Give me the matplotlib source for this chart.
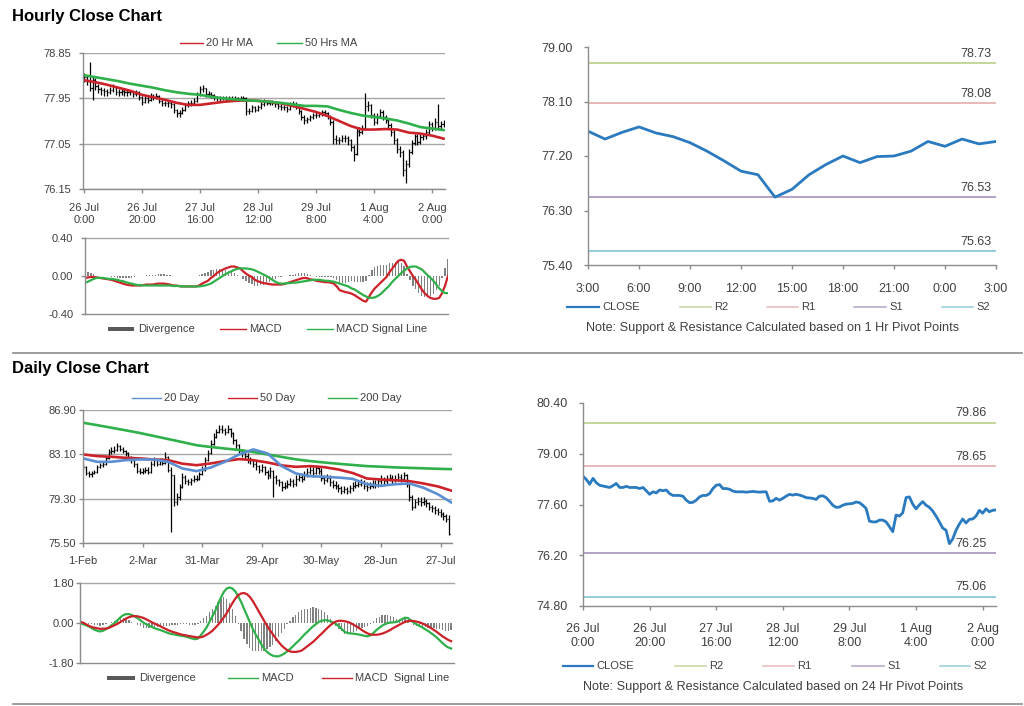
import numpy as np
import matplotlib
matplotlib.use("Agg")
import matplotlib.pyplot as plt
from matplotlib.lines import Line2D
from matplotlib.patches import Rectangle

plt.rcParams['font.family'] = ['Liberation Sans', 'DejaVu Sans']

# ---------------- DATA ----------------
hourly_tick_labels = ["26 Jul\n0:00", "26 Jul\n20:00", "27 Jul\n16:00", "28 Jul\n12:00",
                      "29 Jul\n8:00", "1 Aug\n4:00", "2 Aug\n0:00"]

hourly_close = [
    78.38, 78.29, 78.16, 78.32, 78.20, 78.13, 78.11, 78.09, 78.07, 78.12,
    78.18, 78.07, 78.07, 78.10, 78.07, 78.07, 78.07, 78.04, 78.07, 77.98,
    77.88, 77.95, 77.92, 78.00, 77.98, 78.00, 77.90, 77.85, 77.85, 77.85,
    77.83, 77.72, 77.65, 77.66, 77.72, 77.81, 77.85, 77.85, 77.90, 78.04,
    78.13, 78.15, 78.04, 78.04, 78.02, 77.97, 77.95, 77.95, 77.95, 77.94,
    77.95, 77.96, 77.95, 77.94, 77.95, 77.95, 77.69, 77.70, 77.77, 77.72,
    77.77, 77.83, 77.88, 77.86, 77.88, 77.86, 77.83, 77.79, 77.78, 77.77,
    77.74, 77.83, 77.84, 77.79, 77.69, 77.58, 77.52, 77.53, 77.58, 77.61,
    77.62, 77.63, 77.67, 77.65, 77.58, 77.49, 77.14, 77.12, 77.12, 77.17,
    77.17, 77.12, 76.99, 76.85, 77.31, 77.28, 77.37, 77.79, 77.81, 77.61,
    77.48, 77.59, 77.68, 77.58, 77.52, 77.42, 77.28, 77.12, 76.95, 76.89,
    76.52, 76.65, 76.89, 77.06, 77.20, 77.09, 77.19, 77.20, 77.28, 77.44,
    77.36, 77.48, 77.40, 77.44, 77.45]

hourly_high = [
    78.45, 78.42, 78.67, 78.40, 78.36, 78.24, 78.18, 78.16, 78.14, 78.18,
    78.23, 78.20, 78.13, 78.16, 78.14, 78.13, 78.12, 78.10, 78.12, 78.09,
    78.00, 78.00, 77.99, 78.05, 78.04, 78.05, 78.02, 77.93, 77.90, 77.91,
    77.89, 77.85, 77.74, 77.72, 77.77, 77.86, 77.90, 77.92, 77.96, 78.08,
    78.19, 78.21, 78.16, 78.09, 78.08, 78.04, 78.00, 77.99, 77.99, 77.99,
    77.99, 78.00, 77.99, 77.98, 77.99, 78.00, 77.97, 77.76, 77.82, 77.80,
    77.82, 77.88, 77.93, 77.92, 77.92, 77.91, 77.89, 77.86, 77.83, 77.82,
    77.80, 77.87, 77.89, 77.87, 77.81, 77.72, 77.61, 77.58, 77.62, 77.66,
    77.67, 77.68, 77.72, 77.71, 77.68, 77.61, 77.52, 77.22, 77.19, 77.23,
    77.22, 77.20, 77.15, 77.02, 77.36, 77.38, 77.43, 78.05, 77.90, 77.84,
    77.66, 77.65, 77.74, 77.71, 77.62, 77.56, 77.46, 77.32, 77.16, 77.00,
    76.93, 76.72, 76.95, 77.12, 77.25, 77.24, 77.24, 77.26, 77.34, 77.50,
    77.48, 77.55, 77.83, 77.50, 77.52]

hourly_low = [
    78.28, 78.22, 78.10, 77.91, 78.12, 78.05, 78.02, 78.00, 77.99, 78.03,
    78.08, 78.01, 77.99, 78.02, 78.00, 78.00, 78.01, 77.98, 78.00, 77.92,
    77.82, 77.85, 77.86, 77.90, 77.92, 77.93, 77.85, 77.79, 77.79, 77.78,
    77.76, 77.66, 77.57, 77.58, 77.63, 77.70, 77.77, 77.79, 77.82, 77.88,
    78.00, 78.07, 77.98, 77.98, 77.96, 77.92, 77.90, 77.90, 77.91, 77.90,
    77.90, 77.91, 77.91, 77.90, 77.91, 77.90, 77.62, 77.64, 77.67, 77.67,
    77.69, 77.74, 77.80, 77.81, 77.82, 77.81, 77.78, 77.73, 77.72, 77.71,
    77.68, 77.71, 77.78, 77.74, 77.63, 77.52, 77.45, 77.47, 77.50, 77.54,
    77.56, 77.57, 77.60, 77.60, 77.53, 77.43, 77.05, 77.04, 77.05, 77.08,
    77.09, 77.03, 76.90, 76.70, 76.82, 77.20, 77.25, 77.34, 77.70, 77.55,
    77.42, 77.45, 77.56, 77.52, 77.46, 77.36, 77.21, 77.04, 76.86, 76.78,
    76.40, 76.26, 76.58, 76.84, 77.02, 77.03, 77.05, 77.13, 77.15, 77.24,
    77.30, 77.32, 77.34, 77.35, 77.38]

# moving averages, one value every 4 hours
ma20_hr = [78.31, 78.27, 78.22, 78.16, 78.10, 78.02, 77.97, 77.92, 77.86, 77.82,
           77.82, 77.85, 77.88, 77.90, 77.91, 77.90, 77.88, 77.85, 77.80, 77.74,
           77.68, 77.60, 77.50, 77.40, 77.33, 77.33, 77.34, 77.33, 77.27, 77.25,
           77.21, 77.15]
ma50_hr = [78.41, 78.37, 78.33, 78.29, 78.24, 78.20, 78.16, 78.11, 78.07, 78.04,
           78.02, 77.98, 77.95, 77.93, 77.91, 77.90, 77.88, 77.86, 77.83, 77.80,
           77.80, 77.79, 77.72, 77.66, 77.61, 77.58, 77.55, 77.51, 77.45, 77.38,
           77.35, 77.32]

macd_hr = [
    -0.02, -0.015, -0.01, -0.01, -0.015, -0.02, -0.025, -0.03, -0.035, -0.04,
    -0.05, -0.06, -0.07, -0.08, -0.09, -0.095, -0.10, -0.10, -0.10, -0.10,
    -0.095, -0.09, -0.09, -0.09, -0.085, -0.08, -0.08, -0.08, -0.085, -0.09,
    -0.10, -0.10, -0.105, -0.11, -0.11, -0.11, -0.11, -0.11, -0.11, -0.10,
    -0.08, -0.065, -0.05, -0.02, 0.00, 0.03, 0.05, 0.065, 0.08, 0.09,
    0.10, 0.10, 0.09, 0.08, 0.05, 0.025, 0.005, -0.01, -0.04, -0.055,
    -0.065, -0.075, -0.08, -0.085, -0.09, -0.09, -0.09, -0.09, -0.085, -0.075,
    -0.065, -0.055, -0.045, -0.035, -0.025, -0.02, -0.025, -0.035, -0.04, -0.05,
    -0.055, -0.06, -0.065, -0.065, -0.07, -0.08, -0.11, -0.15, -0.16, -0.17,
    -0.175, -0.185, -0.20, -0.22, -0.24, -0.26, -0.27, -0.22, -0.17, -0.13,
    -0.10, -0.07, -0.04, -0.01, 0.04, 0.08, 0.12, 0.16, 0.17, 0.16,
    0.10, 0.05, 0.00, -0.04, -0.09, -0.14, -0.18, -0.21, -0.23, -0.24,
    -0.24, -0.23, -0.18, -0.10, 0.00]
signal_hr = [
    -0.07, -0.06, -0.045, -0.03, -0.02, -0.02, -0.02, -0.025, -0.03, -0.03,
    -0.035, -0.04, -0.05, -0.055, -0.065, -0.075, -0.08, -0.09, -0.095, -0.095,
    -0.10, -0.10, -0.10, -0.10, -0.10, -0.10, -0.10, -0.10, -0.10, -0.10,
    -0.105, -0.105, -0.105, -0.11, -0.11, -0.11, -0.11, -0.11, -0.11, -0.11,
    -0.105, -0.10, -0.09, -0.08, -0.06, -0.04, -0.02, 0.00, 0.02, 0.035,
    0.05, 0.065, 0.075, 0.08, 0.08, 0.08, 0.075, 0.07, 0.06, 0.045,
    0.03, 0.015, 0.00, -0.02, -0.04, -0.06, -0.075, -0.08, -0.08, -0.075,
    -0.075, -0.07, -0.07, -0.065, -0.06, -0.055, -0.05, -0.045, -0.04, -0.04,
    -0.04, -0.045, -0.05, -0.05, -0.055, -0.06, -0.07, -0.08, -0.09, -0.10,
    -0.11, -0.13, -0.14, -0.16, -0.18, -0.20, -0.215, -0.23, -0.23, -0.225,
    -0.21, -0.19, -0.16, -0.13, -0.10, -0.06, -0.03, 0.00, 0.03, 0.055,
    0.08, 0.095, 0.10, 0.10, 0.085, 0.07, 0.04, 0.01, -0.02, -0.05,
    -0.09, -0.13, -0.16, -0.18, -0.18]

# 1-hour pivot chart (last 24 hours of the hourly series)
pivot1_start = 99
pivot1_tick_labels = ["3:00", "6:00", "9:00", "12:00", "15:00", "18:00", "21:00", "0:00", "3:00"]
pivot1_names = ["R2", "R1", "S1", "S2"]
pivot1_values = [78.73, 78.08, 76.53, 75.63]

# daily data
daily_tick_labels = ["1-Feb", "2-Mar", "31-Mar", "29-Apr", "30-May", "28-Jun", "27-Jul"]
daily_close = [
    82.0, 81.5, 81.4, 81.5, 81.6, 82.0, 82.2, 82.3, 82.8, 83.3,
    83.4, 83.5, 83.8, 83.6, 83.4, 83.2, 82.9, 82.6, 82.3, 81.7,
    81.6, 81.7, 81.8, 81.6, 82.3, 82.6, 82.3, 82.6, 82.4, 82.9,
    81.8, 81.3, 79.0, 79.4, 80.3, 81.2, 80.8, 80.7, 80.9, 81.0,
    81.0, 81.4, 81.8, 82.6, 83.2, 84.0, 84.6, 85.0, 85.3, 85.2,
    85.0, 85.3, 84.9, 84.3, 83.9, 83.4, 83.2, 83.0, 82.7, 82.6,
    82.3, 82.1, 81.8, 82.0, 81.6, 81.3, 81.7, 81.2, 80.9, 80.7,
    80.3, 80.4, 80.6, 80.8, 80.6, 81.0, 81.2, 81.0, 81.4, 81.6,
    81.8, 81.5, 81.9, 81.7, 81.1, 80.9, 81.1, 80.7, 80.5, 80.4,
    80.2, 80.0, 80.1, 80.0, 80.2, 80.4, 80.5, 80.6, 80.7, 80.4,
    80.3, 80.4, 80.6, 80.5, 80.8, 81.0, 80.8, 81.0, 81.1, 80.9,
    81.0, 81.2, 81.0, 81.3, 80.6, 79.4, 78.6, 79.0, 79.1, 79.0,
    79.1, 78.9, 78.6, 78.5, 78.3, 78.2, 78.0, 77.8, 77.6, 76.3]
daily_high = [
    82.3, 82.1, 81.7, 81.7, 81.8, 82.2, 82.4, 82.5, 83.0, 83.6,
    83.7, 83.8, 84.1, 83.9, 83.7, 83.5, 83.3, 83.0, 82.7, 82.4,
    81.9, 81.9, 82.0, 82.0, 82.5, 82.9, 82.7, 82.8, 82.8, 83.3,
    83.0, 82.0, 81.3, 79.8, 80.6, 81.5, 81.3, 81.0, 81.1, 81.3,
    81.3, 81.6, 82.1, 82.9, 83.5, 84.3, 84.9, 85.3, 85.6, 85.6,
    85.4, 85.6, 85.4, 85.0, 84.4, 84.0, 83.6, 83.4, 83.2, 82.9,
    82.7, 82.5, 82.2, 82.3, 82.1, 81.8, 82.0, 81.8, 81.3, 81.0,
    80.8, 80.7, 80.9, 81.1, 81.0, 81.3, 81.5, 81.4, 81.7, 81.9,
    82.1, 82.0, 82.2, 82.1, 81.9, 81.3, 81.4, 81.3, 80.9, 80.8,
    80.6, 80.4, 80.4, 80.3, 80.5, 80.7, 80.8, 80.9, 81.0, 80.9,
    80.7, 80.7, 80.9, 80.9, 81.1, 81.3, 81.2, 81.3, 81.4, 81.3,
    81.3, 81.5, 81.4, 81.6, 81.4, 80.7, 79.6, 79.3, 79.4, 79.4,
    79.4, 79.3, 79.0, 78.8, 78.7, 78.5, 78.4, 78.2, 78.0, 77.9]
daily_low = [
    81.8, 81.3, 81.2, 81.2, 81.4, 81.5, 81.9, 82.0, 82.2, 82.7,
    83.1, 83.2, 83.4, 83.4, 83.2, 83.0, 82.7, 82.4, 82.0, 81.5,
    81.4, 81.4, 81.5, 81.4, 81.5, 82.1, 82.1, 82.2, 82.2, 82.3,
    81.6, 76.4, 78.7, 78.8, 79.2, 80.2, 80.6, 80.5, 80.5, 80.7,
    80.8, 80.9, 81.3, 81.7, 82.5, 83.1, 83.9, 84.5, 84.9, 84.9,
    84.8, 84.9, 84.6, 84.0, 83.6, 83.2, 82.9, 82.7, 82.4, 82.3,
    82.0, 81.8, 81.5, 81.6, 81.3, 81.0, 81.1, 79.4, 80.6, 80.4,
    80.0, 80.1, 80.2, 80.4, 80.3, 80.4, 80.8, 80.7, 80.9, 81.2,
    81.4, 81.2, 81.4, 81.4, 80.8, 80.6, 80.7, 80.4, 80.2, 80.1,
    79.9, 79.7, 79.8, 79.7, 79.8, 80.0, 80.2, 80.3, 80.4, 80.1,
    80.0, 80.1, 80.2, 80.2, 80.3, 80.6, 80.5, 80.6, 80.8, 80.6,
    80.7, 80.8, 80.7, 80.8, 80.3, 79.1, 78.3, 78.5, 78.8, 78.7,
    78.8, 78.6, 78.3, 78.2, 78.0, 77.9, 77.7, 77.5, 77.3, 76.2]

# moving averages, one value every 5 days
ma20_d = [82.75, 82.46, 82.46, 82.60, 82.66, 82.66, 82.46, 81.89, 81.66, 81.97,
          82.46, 83.09, 83.52, 83.18, 82.09, 81.46, 81.23, 81.17, 81.11, 81.00,
          80.54, 80.40, 80.54, 80.60, 80.23, 79.68, 78.94]
ma50_d = [83.09, 82.95, 82.89, 82.80, 82.75, 82.66, 82.60, 82.30, 82.17, 82.32,
          82.52, 82.69, 82.60, 82.40, 82.15, 82.03, 82.09, 82.00, 81.80, 81.50,
          81.03, 80.94, 80.88, 80.80, 80.60, 80.35, 79.97]
ma200_d = [85.81, 85.60, 85.38, 85.16, 84.93, 84.67, 84.41, 84.15, 83.88, 83.73,
           83.60, 83.47, 83.30, 83.09, 82.88, 82.67, 82.52, 82.40, 82.29, 82.19,
           82.09, 82.04, 81.98, 81.94, 81.90, 81.86, 81.83]

macd_d = [
    0.00, -0.05, -0.10, -0.15, -0.22, -0.30, -0.35, -0.38, -0.35, -0.28,
    -0.20, -0.10, 0.00, 0.12, 0.25, 0.35, 0.40, 0.40, 0.36, 0.30,
    0.22, 0.12, 0.02, -0.05, -0.12, -0.18, -0.24, -0.28, -0.32, -0.37,
    -0.42, -0.47, -0.50, -0.52, -0.55, -0.57, -0.59, -0.62, -0.66, -0.70,
    -0.73, -0.70, -0.55, -0.38, -0.20, 0.05, 0.30, 0.55, 0.85, 1.15,
    1.40, 1.55, 1.60, 1.55, 1.42, 1.20, 0.95, 0.65, 0.35, 0.05,
    -0.25, -0.50, -0.72, -0.95, -1.15, -1.30, -1.40, -1.47, -1.50, -1.50,
    -1.45, -1.38, -1.28, -1.17, -1.05, -0.92, -0.80, -0.66, -0.52, -0.40,
    -0.27, -0.15, -0.05, 0.05, 0.10, 0.13, 0.12, 0.08, 0.02, -0.05,
    -0.15, -0.28, -0.40, -0.45, -0.47, -0.48, -0.50, -0.52, -0.55, -0.58,
    -0.60, -0.55, -0.45, -0.32, -0.22, -0.12, -0.05, 0.00, 0.02, 0.03,
    0.05, 0.10, 0.18, 0.24, 0.22, 0.12, 0.02, -0.06, -0.13, -0.20,
    -0.28, -0.36, -0.45, -0.55, -0.65, -0.78, -0.90, -1.02, -1.10, -1.15]
signal_d = [
    0.05, 0.02, -0.05, -0.12, -0.18, -0.21, -0.24, -0.26, -0.26, -0.25,
    -0.22, -0.16, -0.10, -0.04, 0.04, 0.12, 0.20, 0.26, 0.30, 0.31,
    0.30, 0.27, 0.23, 0.17, 0.10, 0.03, -0.03, -0.09, -0.15, -0.22,
    -0.28, -0.34, -0.39, -0.43, -0.47, -0.51, -0.54, -0.56, -0.59, -0.61,
    -0.63, -0.65, -0.64, -0.60, -0.53, -0.45, -0.35, -0.22, -0.08, 0.08,
    0.25, 0.45, 0.68, 0.90, 1.10, 1.25, 1.33, 1.35, 1.30, 1.18,
    1.00, 0.78, 0.55, 0.32, 0.10, -0.12, -0.32, -0.50, -0.68, -0.85,
    -1.00, -1.12, -1.22, -1.28, -1.30, -1.30, -1.28, -1.24, -1.15, -1.05,
    -0.95, -0.85, -0.73, -0.60, -0.48, -0.35, -0.22, -0.10, 0.00, 0.07,
    0.10, 0.10, 0.08, 0.05, 0.00, -0.07, -0.15, -0.23, -0.32, -0.40,
    -0.47, -0.52, -0.53, -0.53, -0.51, -0.48, -0.43, -0.37, -0.30, -0.22,
    -0.15, -0.08, -0.01, 0.05, 0.09, 0.10, 0.09, 0.06, 0.03, -0.02,
    -0.08, -0.15, -0.23, -0.31, -0.40, -0.50, -0.60, -0.68, -0.76, -0.82]

# 24-hour pivot chart (uses hourly closes)
pivot24_names = ["R2", "R1", "S1", "S2"]
pivot24_values = [79.86, 78.65, 76.25, 75.06]

# axis ticks
hr_price_ticks = [76.15, 77.05, 77.95, 78.85]
hr_macd_ticks = [-0.40, 0.00, 0.40]
p1_ticks = [75.40, 76.30, 77.20, 78.10, 79.00]
d_price_ticks = [75.50, 79.30, 83.10, 86.90]
d_macd_ticks = [-1.80, 0.00, 1.80]
p24_ticks = [74.80, 76.20, 77.60, 79.00, 80.40]

# ---------------- STYLE ----------------
W, H = 1024, 706
RED = '#cc2229'
GREEN = '#2fb04a'
BLUE20 = '#5b8fd2'
CLOSE_BLUE = '#2a7abf'
PIV_COL = {'R2': '#c3d69b', 'R1': '#e6b9b8', 'S1': '#b3a2c7', 'S2': '#93cddd'}
GRID = '#a6a6a6'
SPINE = '#8c8c8c'
TXT = '#404040'
DIVC = '#808080'

fig = plt.figure(figsize=(W / 100, H / 100), dpi=100)


def add_ax(l, t, r, b):
    return fig.add_axes([l / W, 1 - b / H, (r - l) / W, (b - t) / H])


def style(ax, ypad, xpad, fs):
    for s in ['top', 'right']:
        ax.spines[s].set_visible(False)
    for s in ['left', 'bottom']:
        ax.spines[s].set_color(SPINE)
        ax.spines[s].set_linewidth(1)
    ax.tick_params(axis='both', colors=SPINE, labelcolor=TXT, length=3, width=1, labelsize=fs)
    ax.tick_params(axis='y', pad=ypad)
    ax.tick_params(axis='x', pad=xpad)


def set_yticks(ax, ticks):
    ax.set_yticks(ticks)
    ax.set_yticklabels([f"{t:.2f}" for t in ticks])
    ax.set_ylim(ticks[0], ticks[-1])


def ohlc(ax, close, hi, lo, tw):
    c = np.asarray(close)
    x = np.arange(len(c))
    o = np.concatenate([[c[0]], c[:-1]])
    top = np.maximum.reduce([np.asarray(hi), o, c])
    bot = np.minimum.reduce([np.asarray(lo), o, c])
    ax.vlines(x, bot, top, color='black', lw=0.9)
    ax.hlines(o, x - tw, x, color='black', lw=0.9)
    ax.hlines(c, x, x + tw, color='black', lw=0.9)


def fx(x):
    return x / W


def fy(y):
    return 1 - y / H


def leg_line(x0, x1, y, color, label, lw=1.0, fs=8):
    fig.add_artist(Line2D([fx(x0), fx(x1)], [fy(y), fy(y)], color=color, lw=lw,
                          transform=fig.transFigure))
    fig.text(fx(x1 + 3), fy(y), label, fontsize=fs, color=TXT, va='center', ha='left')


def leg_box(x0, x1, y, label, fs=8):
    fig.add_artist(Rectangle((fx(x0), fy(y + 2)), fx(x1 - x0), 4.5 / H, color='#595959',
                             transform=fig.transFigure, lw=0))
    fig.text(fx(x1 + 4), fy(y), label, fontsize=fs, color=TXT, va='center', ha='left')


# ---------------- TITLES & SEPARATORS ----------------
fig.text(fx(12), fy(16), "Hourly Close Chart", fontsize=12, fontweight='bold', va='center', color='black')
fig.text(fx(12), fy(369), "Daily Close Chart", fontsize=12, fontweight='bold', va='center', color='black')
fig.add_artist(Line2D([fx(13), fx(1022)], [fy(352.5), fy(352.5)], color='#8c8c8c', lw=1.2,
                      transform=fig.transFigure))
fig.add_artist(Line2D([fx(13), fx(1022)], [fy(703.5), fy(703.5)], color='#8c8c8c', lw=1.2,
                      transform=fig.transFigure))

# ---------------- HOURLY PRICE ----------------
nh = len(hourly_close)
ax1 = add_ax(83, 53, 445, 189)
style(ax1, 5.5, 7, 8)
ax1.yaxis.grid(True, color=GRID, lw=1)
ax1.set_axisbelow(True)
ohlc(ax1, hourly_close, hourly_high, hourly_low, 0.4)
xm = np.arange(0, nh, 4)
ax1.plot(xm, ma20_hr, color=RED, lw=1.9)
ax1.plot(xm, ma50_hr, color=GREEN, lw=1.9)
set_yticks(ax1, hr_price_ticks)
ax1.set_xlim(-0.3, 124.5)
ax1.set_xticks(np.arange(0, nh, 20))
ax1.set_xticklabels(hourly_tick_labels, linespacing=1.25)
leg_line(180, 203, 43, RED, "20 Hr MA")
leg_line(277, 302, 43, GREEN, "50 Hrs MA")

# ---------------- HOURLY MACD ----------------
ax2 = add_ax(85, 238, 448, 314)
style(ax2, 5.5, 3, 8)
mh = np.asarray(macd_hr)
sh = np.asarray(signal_hr)
xh = np.arange(len(mh))
ax2.bar(xh, mh - sh, width=0.45, color=DIVC, lw=0)
ax2.plot(xh, mh, color=RED, lw=1.6)
ax2.plot(xh, sh, color=GREEN, lw=1.6)
ax2.axhline(hr_macd_ticks[-1], color=GRID, lw=1, clip_on=False)
set_yticks(ax2, hr_macd_ticks)
ax2.set_xlim(0, 124)
ax2.set_xticks([])
leg_box(108, 134, 329, "Divergence")
leg_line(220, 246, 329, RED, "MACD")
leg_line(307, 333, 329, GREEN, "MACD Signal Line")

# ---------------- 1 HR PIVOT ----------------
ax3 = add_ax(588, 47, 996, 265)
style(ax3, 8, 10, 9)
p1 = np.asarray(hourly_close[pivot1_start:pivot1_start + 25])
x1 = np.arange(len(p1))
for name, val in zip(pivot1_names, pivot1_values):
    ax3.axhline(val, color=PIV_COL[name], lw=1.4)
    ax3.annotate(f"{val:.2f}", xy=(24, val), xytext=(-3, 6.5), textcoords='offset points',
                 ha='right', va='center', fontsize=9, color=TXT)
ax3.plot(x1, p1, color=CLOSE_BLUE, lw=2)
set_yticks(ax3, p1_ticks)
ax3.set_xlim(0, 24)
ax3.set_xticks(np.arange(0, 25, 3))
ax3.set_xticklabels(pivot1_tick_labels)
leg_line(567, 599, 307, CLOSE_BLUE, "CLOSE", lw=1.6, fs=8)
for name, (a, b) in zip(pivot1_names, [(680, 711), (767, 798), (854, 886), (942, 973)]):
    leg_line(a, b, 307, PIV_COL[name], name, lw=1.1, fs=8)
fig.text(fx(773), fy(328), "Note: Support & Resistance Calculated based on 1 Hr Pivot Points",
         fontsize=9.1, color=TXT, ha='center', va='center')

# ---------------- DAILY PRICE ----------------
nd = len(daily_close)
ax4 = add_ax(83, 410, 452, 543)
style(ax4, 2, 6.5, 8)
ax4.yaxis.grid(True, color=GRID, lw=1)
ax4.set_axisbelow(True)
ohlc(ax4, daily_close, daily_high, daily_low, 0.4)
xd5 = np.arange(0, nd + 1, 5)
ax4.plot(xd5, ma200_d, color=GREEN, lw=1.9)
ax4.plot(xd5, ma50_d, color=RED, lw=1.9)
ax4.plot(xd5, ma20_d, color=BLUE20, lw=1.9)
set_yticks(ax4, d_price_ticks)
ax4.set_xlim(0, 130)
ax4.set_xticks(np.arange(0, nd, 21))
ax4.set_xticklabels(daily_tick_labels)
leg_line(132, 161, 398, BLUE20, "20 Day")
leg_line(228, 257, 398, RED, "50 Day")
leg_line(328, 357, 398, GREEN, "200 Day")

# ---------------- DAILY MACD ----------------
ax5 = add_ax(80, 583, 454, 663)
style(ax5, 1.5, 3, 8)
md = np.asarray(macd_d)
sd = np.asarray(signal_d)
xd = np.arange(len(md))
ax5.bar(xd, md - sd, width=0.45, color=DIVC, lw=0)
ax5.plot(xd, md, color=GREEN, lw=1.6)
ax5.plot(xd, sd, color=RED, lw=1.6)
ax5.axhline(d_macd_ticks[-1], color=GRID, lw=1, clip_on=False)
set_yticks(ax5, d_macd_ticks)
ax5.set_xlim(0, 130)
ax5.set_xticks([])
leg_box(107, 135, 678, "Divergence")
leg_line(228, 258, 678, GREEN, "MACD")
leg_line(322, 352, 678, RED, "MACD  Signal Line")

# ---------------- 24 HR PIVOT ----------------
ax6 = add_ax(583, 403, 996, 606)
style(ax6, 8, 9.5, 9)
hc = np.asarray(hourly_close)
for name, val in zip(pivot24_names, pivot24_values):
    ax6.axhline(val, color=PIV_COL[name], lw=1.4)
    ax6.annotate(f"{val:.2f}", xy=(124, val), xytext=(-7, 7), textcoords='offset points',
                 ha='right', va='center', fontsize=9, color=TXT)
ax6.plot(np.arange(nh), hc, color=CLOSE_BLUE, lw=2)
set_yticks(ax6, p24_ticks)
ax6.set_xlim(0, 124)
ax6.set_xticks(np.arange(0, nh, 20))
ax6.set_xticklabels(hourly_tick_labels, linespacing=1.2)
leg_line(563, 593, 666, CLOSE_BLUE, "CLOSE", lw=1.6, fs=8)
for name, (a, b) in zip(pivot24_names, [(675, 706), (763, 794), (852, 884), (940, 970)]):
    leg_line(a, b, 666, PIV_COL[name], name, lw=1.1, fs=8)
fig.text(fx(773), fy(687), "Note: Support & Resistance Calculated based on 24 Hr Pivot Points",
         fontsize=9.1, color=TXT, ha='center', va='center')

fig.savefig("out.png", dpi=100)
